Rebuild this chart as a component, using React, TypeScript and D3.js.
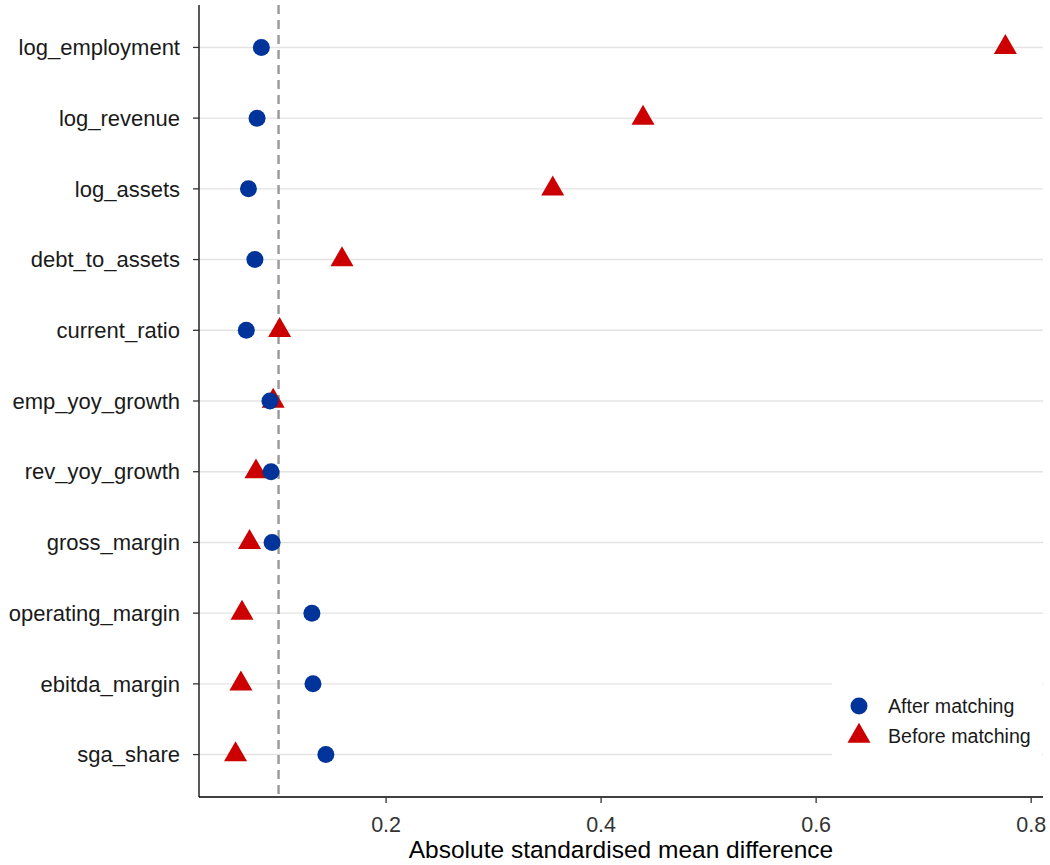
import React from "react";
import * as d3 from "d3";

const covariates = [
  "log_employment",
  "log_revenue",
  "log_assets",
  "debt_to_assets",
  "current_ratio",
  "emp_yoy_growth",
  "rev_yoy_growth",
  "gross_margin",
  "operating_margin",
  "ebitda_margin",
  "sga_share",
];
const afterMatching = [0.084, 0.080, 0.072, 0.078, 0.070, 0.092, 0.093, 0.094, 0.131, 0.132, 0.144];
const beforeMatching = [0.776, 0.439, 0.355, 0.159, 0.101, 0.095, 0.079, 0.073, 0.066, 0.065, 0.060];
const xTicks = [0.2, 0.4, 0.6, 0.8];
const threshold = 0.1;

const W = 1050;
const H = 865;
const margin = { left: 199, right: 7, top: 5, bottom: 68 };
const FONT = "'Liberation Sans', Arial, Helvetica, sans-serif";
const BLUE = "#00349a";
const RED = "#cc0000";

export default function App() {
  const x = d3.scaleLinear().domain([0.026, 0.811]).range([margin.left, W - margin.right]);
  const yUnit = (H - margin.bottom - margin.top) / (covariates.length - 1 + 1.2);
  const y = d3
    .scalePoint<string>()
    .domain(covariates)
    .range([margin.top + 0.6 * yUnit, H - margin.bottom - 0.6 * yUnit]);
  const plotBottom = H - margin.bottom;
  const triangle = d3.symbol(d3.symbolTriangle, 230)();
  const circleR = 8.5;

  const legendX = 832;
  const legendY = 682;

  return (
    <div style={{ position: "absolute", left: 0, top: 0 }}>
      <svg width={W} height={H} style={{ display: "block", background: "#fff" }} fontFamily={FONT}>
        {/* horizontal grid */}
        {covariates.map((c) => (
          <line key={"g" + c} x1={margin.left} x2={W - margin.right} y1={y(c)} y2={y(c)} stroke="#e3e3e3" strokeWidth={1.4} />
        ))}
        {/* reference threshold */}
        <line x1={x(threshold)} x2={x(threshold)} y1={margin.top} y2={plotBottom} stroke="#999" strokeWidth={2.4} strokeDasharray="9,6" />
        {/* points */}
        {covariates.map((c, i) => (
          <path key={"b" + c} d={triangle!} transform={`translate(${x(beforeMatching[i])},${y(c)})`} fill={RED} />
        ))}
        {covariates.map((c, i) => (
          <circle key={"a" + c} cx={x(afterMatching[i])} cy={y(c)} r={circleR} fill={BLUE} />
        ))}
        {/* axes */}
        <line x1={margin.left} x2={margin.left} y1={margin.top} y2={plotBottom} stroke="#000" strokeWidth={1.3} />
        <line x1={margin.left} x2={W - margin.right} y1={plotBottom} y2={plotBottom} stroke="#000" strokeWidth={1.3} />
        {covariates.map((c) => (
          <g key={"yt" + c}>
            <line x1={margin.left - 6} x2={margin.left} y1={y(c)} y2={y(c)} stroke="#333" strokeWidth={1.3} />
            <text x={margin.left - 19} y={y(c)} dy="0.35em" textAnchor="end" fontSize={22} fill="#1a1a1a">
              {c}
            </text>
          </g>
        ))}
        {xTicks.map((t) => (
          <g key={"xt" + t}>
            <line x1={x(t)} x2={x(t)} y1={plotBottom} y2={plotBottom + 6} stroke="#333" strokeWidth={1.3} />
            <text x={x(t)} y={plotBottom + 35} textAnchor="middle" fontSize={21.5} fill="#333">
              {t.toFixed(1)}
            </text>
          </g>
        ))}
        <text x={(margin.left + W - margin.right) / 2} y={858} textAnchor="middle" fontSize={24.5} fill="#000">
          Absolute standardised mean difference
        </text>
        {/* legend */}
        <g transform={`translate(${legendX},${legendY})`}>
          <rect x={0} y={0} width={210} height={85} fill="#fff" />
          <circle cx={27} cy={24} r={circleR} fill={BLUE} />
          <text x={56} y={24} dy="0.35em" fontSize={19.6} fill="#1a1a1a">After matching</text>
          <path d={triangle!} transform={`translate(27,54)`} fill={RED} />
          <text x={56} y={54} dy="0.35em" fontSize={19.6} fill="#1a1a1a">Before matching</text>
        </g>
      </svg>
    </div>
  );
}
